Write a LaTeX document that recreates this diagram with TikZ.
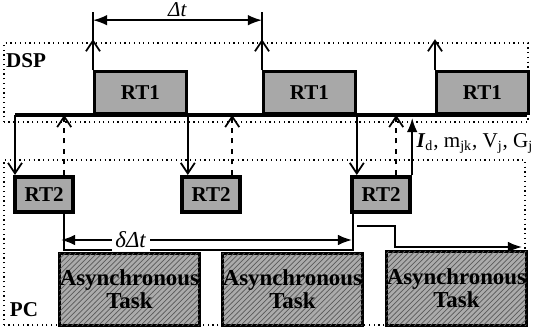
\documentclass[tikz,border=0pt]{standalone}
\usepackage{fontspec}
\setmainfont{Liberation Serif}
\usetikzlibrary{arrows.meta, positioning, calc, patterns}
\definecolor{rtGray}{HTML}{A8A8A8}
\definecolor{taskGray}{HTML}{ABABAB}
\definecolor{hatchGray}{HTML}{5A5A5A}
\tikzset{
  rtone/.style={draw=black, line width=1.6pt, fill=rtGray, inner sep=0pt,
               minimum width=1.84cm, minimum height=0.84cm, font=\fontsize{12}{13}\selectfont\bfseries},
  rttwo/.style={draw=black, line width=2.4pt, fill=rtGray, inner sep=0pt,
               minimum width=1.16cm, minimum height=0.70cm, font=\fontsize{12}{13}\selectfont\bfseries},
  task/.style={draw=black, line width=1.6pt, fill=taskGray, align=center, inner sep=0pt,
               postaction={pattern=north east lines, pattern color=hatchGray},
               minimum width=2.8cm, minimum height=1.44cm, font=\fontsize{13}{13}\selectfont\bfseries},
  zone/.style={dotted, line width=0.7pt},
  bus/.style={line width=1.8pt},
  barb/.style={-{Straight Barb[length=6pt,width=8pt]}, line width=1pt},
  solidtip/.style={-{Latex[length=8pt,width=6pt]}, line width=1pt},
}

\begin{document}
\begin{tikzpicture}
\useasboundingbox (0,0) rectangle (10.76,6.58);
% processor zones
\draw[zone] (0.08,4.14) rectangle (10.56,5.72);
\draw[zone] (0.08,0.08) rectangle (10.50,3.38);
\node[font=\fontsize{12}{13}\selectfont\bfseries] (dsp) at (0.52,5.36) {DSP};
\node[font=\fontsize{12}{13}\selectfont\bfseries] (pc) at (0.48,0.38) {PC};

% DSP time line
\coordinate (busstart) at (0.30,4.28);
\coordinate (busend) at (10.54,4.28);
\draw[bus] (busstart) -- (busend);
\node[rtone, anchor=south west] (rtone-a) at (1.86,4.28) {RT1};
\node[rtone, anchor=south west] (rtone-b) at (5.24,4.28) {RT1};
\node[rtone, anchor=south west] (rtone-c) at (8.70,4.28) {RT1};

% sampling period
\draw[line width=1pt] (rtone-a.north west) -- ++(0,1.16);
\draw[line width=1pt] (rtone-b.north west) -- ++(0,1.16);
\draw[barb] (rtone-a.north west) -- ++(0,0.62);
\draw[barb] (rtone-b.north west) -- ++(0,0.62);
\draw[barb] (rtone-c.north west) -- ++(0,0.62);
\draw[{Latex[length=8pt,width=6pt]}-{Latex[length=8pt,width=6pt]}, line width=1pt]
  ([yshift=1cm]rtone-a.north west) -- node[anchor=south, inner sep=1.5pt, font=\fontsize{12}{13}\selectfont] {\textit{Δt}} ([yshift=1cm]rtone-b.north west);

% PC real time tasks
\node[rttwo, anchor=north west] (rttwo-a) at (0.26,3.08) {RT2};
\node[rttwo, anchor=north west] (rttwo-b) at (3.60,3.08) {RT2};
\node[rttwo, anchor=north west] (rttwo-c) at (7.00,3.08) {RT2};

\draw[barb] (busstart) -- (busstart |- rttwo-a.north);
\draw[barb] (rtone-a.south east) -- (rtone-a.south east |- rttwo-b.north);
\draw[barb] (rtone-b.south east) -- (rtone-b.south east |- rttwo-c.north);
\draw[barb, dashed] ([xshift=-0.22cm]rttwo-a.north east) -- ([xshift=-0.22cm]rttwo-a.north east |- busstart);
\draw[barb, dashed] ([xshift=-0.20cm]rttwo-b.north east) -- ([xshift=-0.20cm]rttwo-b.north east |- busstart);
\draw[barb, dashed] ([xshift=-0.32cm]rttwo-c.north east) -- ([xshift=-0.32cm]rttwo-c.north east |- busstart);
\draw[solidtip] (rttwo-c.north east) -- ([yshift=-0.06cm]rttwo-c.north east |- busstart)
  node[right, pos=0.55, font=\fontsize{12}{13}\selectfont, inner sep=2pt]
  {\textbf{\textit{I}}\textsubscript{d}, m\textsubscript{jk}, V\textsubscript{j}, G\textsubscript{j}};

% PC time line
\coordinate (pcbase) at (0,1.58);
\coordinate (pcend) at (10.44,1.64);
\draw[line width=1pt] ([xshift=-0.22cm]rttwo-a.south east)
  -- ([xshift=-0.22cm]rttwo-a.south east |- pcbase)
  -- ([xshift=0.06cm]rttwo-c.south west |- pcbase)
  -- ([xshift=0.06cm]rttwo-c.south west);
\draw[solidtip] ([xshift=0.14cm,yshift=-0.24cm]rttwo-c.south west) -| ([xshift=0.90cm]rttwo-c.south west |- pcend)
  -- (pcend);
\coordinate (dleft) at (1.22,1.78);
\coordinate (dright) at (7.04,1.78);
\draw[{Latex[length=8pt,width=6pt]}-{Latex[length=8pt,width=6pt]}, line width=1pt]
  (dleft) -- node[pos=0.24, fill=white, inner sep=2pt, font=\fontsize{13}{14}\selectfont] {\textit{δΔt}} (dright);

% asynchronous tasks
\node[task, anchor=south west] (async-a) at (1.16,0.04) {Asynchronous\\Task};
\node[task, anchor=south west] (async-b) at (4.42,0.04) {Asynchronous\\Task};
\node[task, anchor=south west, minimum height=1.48cm] (async-c) at (7.70,0.04) {Asynchronous\\Task};
\end{tikzpicture}
\end{document}
